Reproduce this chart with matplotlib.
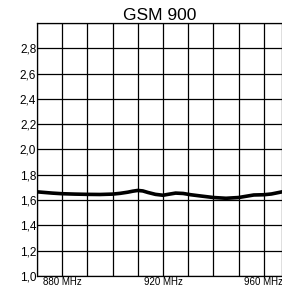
import numpy as np
import matplotlib.pyplot as plt

plt.rcParams['font.family'] = ['Liberation Sans', 'DejaVu Sans']

# frequency (MHz) and VSWR
freq = [870, 873, 876, 880, 885, 890, 895, 900, 903, 906, 908, 910, 912,
        914, 917, 920, 922, 925, 928, 931, 935, 940, 945, 950, 953, 956,
        960, 963, 966, 968]
vswr = [1.665, 1.66, 1.655, 1.65, 1.647, 1.645, 1.644, 1.647, 1.653, 1.662,
        1.670, 1.676, 1.672, 1.660, 1.645, 1.638, 1.645, 1.655, 1.652, 1.642,
        1.632, 1.620, 1.614, 1.620, 1.630, 1.640, 1.642, 1.648, 1.660, 1.668]

x_ticks = [880, 920, 960]
x_labels = ['880 MHz', '920 MHz', '960 MHz']
y_ticks = [1.0, 1.2, 1.4, 1.6, 1.8, 2.0, 2.2, 2.4, 2.6, 2.8]
y_labels = ['1,0', '1,2', '1,4', '1,6', '1,8', '2,0', '2,2', '2,4', '2,6', '2,8']

fig = plt.figure(figsize=(2.82, 2.88), dpi=100)
ax = fig.add_axes([0.131, 0.042, 0.869, 0.878])

# grid every 10 MHz and 0.2
for gx in range(870, 971, 10):
    ax.axvline(gx, color='black', linewidth=0.9, zorder=1)
for gy in np.arange(1.0, 3.01, 0.2):
    ax.axhline(gy, color='black', linewidth=0.9, zorder=1)

ax.plot(freq, vswr, color='black', linewidth=2.6, zorder=3,
        solid_joinstyle='round')

ax.set_xlim(870, 967.2)
ax.set_ylim(1.0, 3.0)
ax.set_xticks(x_ticks)
ax.set_xticklabels(x_labels, fontsize=7)
ax.set_yticks(y_ticks)
ax.set_yticklabels(y_labels, fontsize=8.5)
ax.tick_params(length=0, pad=0.5)
for s in ax.spines.values():
    s.set_linewidth(0.9)
ax.set_title('GSM 900', fontsize=12.5, pad=2)

plt.savefig('out.png', dpi=100)
